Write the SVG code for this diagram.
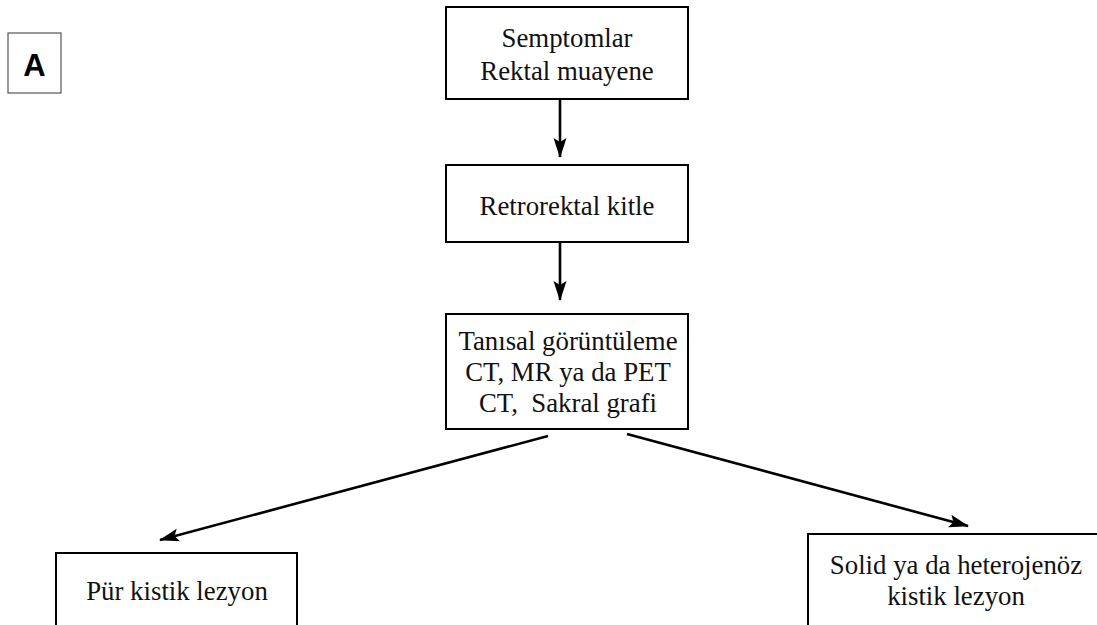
<svg xmlns="http://www.w3.org/2000/svg" width="1097" height="625" viewBox="0 0 1097 625">
<style>
.box{fill:#fff;stroke:#000;stroke-width:2}
.t{font-family:"Liberation Serif","Times New Roman",serif;font-size:26.8px;fill:#111;text-anchor:middle;white-space:pre}
.c{stroke:#000;stroke-width:2.6;fill:none;marker-end:url(#ah)}
</style>
<defs>
<marker id="ah" markerWidth="20" markerHeight="14" refX="19" refY="7" orient="auto" markerUnits="userSpaceOnUse">
<path d="M0,0.5 L20,7 L0,13.5 L4,7 Z" fill="#000"/>
</marker>
</defs>
<rect width="1097" height="625" fill="#fff"/>
<g id="labelA">
<rect x="8" y="33" width="53" height="60" fill="#fff" stroke="#555" stroke-width="1.2"/>
<text x="34.5" y="76" font-family="Liberation Sans,Arial,sans-serif" font-size="31" font-weight="bold" text-anchor="middle" fill="#000">A</text>
</g>
<g id="n1">
<rect class="box" x="446" y="7" width="242" height="92"/>
<text class="t" x="567" y="47">Semptomlar</text>
<text class="t" x="567" y="80">Rektal muayene</text>
</g>
<g id="n2">
<rect class="box" x="446" y="165" width="242" height="77"/>
<text class="t" x="567" y="215">Retrorektal kitle</text>
</g>
<g id="n3">
<rect class="box" x="446" y="314" width="242" height="115"/>
<text class="t" x="568" y="350">Tanısal görüntüleme</text>
<text class="t" x="568" y="381">CT, MR ya da PET</text>
<text class="t" x="568" y="412" xml:space="preserve">CT,  Sakral grafi</text>
</g>
<g id="n4">
<rect class="box" x="56" y="553" width="241" height="90"/>
<text class="t" x="177" y="600">Pür kistik lezyon</text>
</g>
<g id="n5">
<rect class="box" x="808" y="534" width="300" height="110"/>
<text class="t" x="956" y="574">Solid ya da heterojenöz</text>
<text class="t" x="956" y="605">kistik lezyon</text>
</g>
<g id="connectors">
<line class="c" x1="560" y1="99" x2="560" y2="157"/>
<line class="c" x1="560" y1="242" x2="560" y2="300"/>
<line class="c" x1="548" y1="436" x2="160" y2="540"/>
<line class="c" x1="627" y1="434" x2="968" y2="526"/>
</g>
</svg>
